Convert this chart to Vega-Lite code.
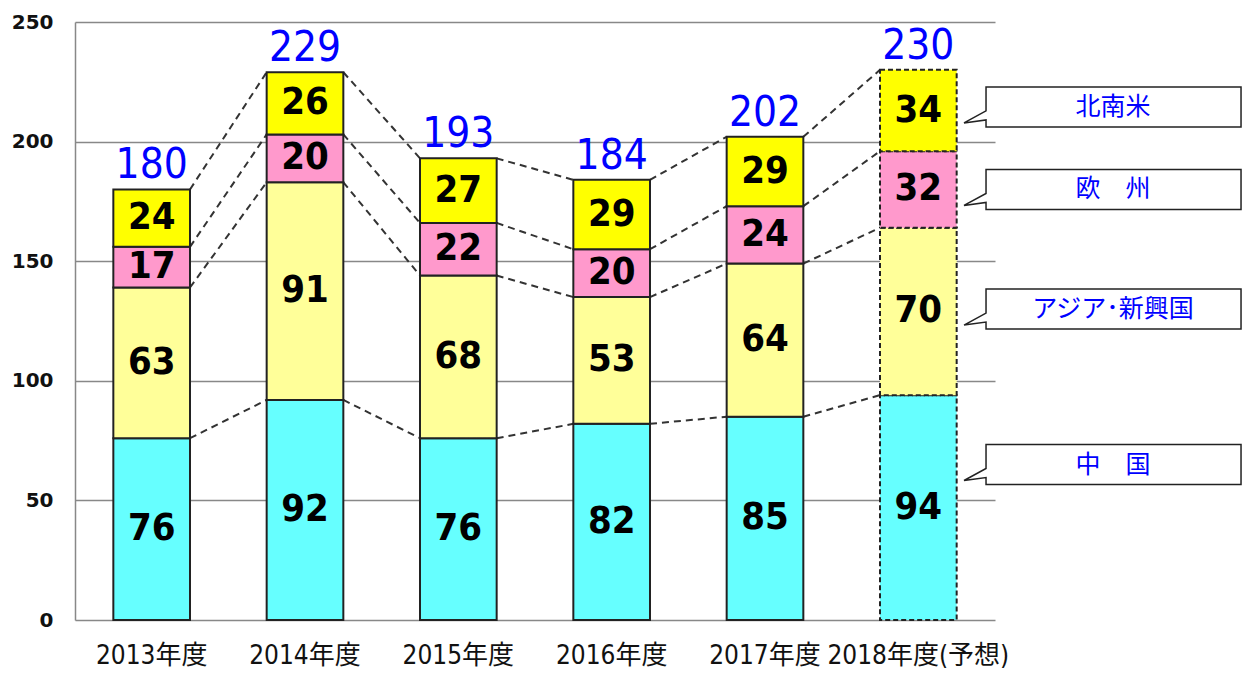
{
  "$schema": "https://vega.github.io/schema/vega-lite/v6.json",
  "width": 920,
  "height": 598,
  "autosize": {"type": "none"},
  "padding": {"left": 75, "top": 22, "right": 248, "bottom": 53},
  "config": {
    "view": {"stroke": null},
    "font": "Noto Sans CJK JP",
    "axisX": {
      "domain": false, "ticks": false, "grid": false,
      "labelFont": "'DejaVu Sans Condensed', 'Noto Sans CJK JP', sans-serif",
      "labelFontSize": 26, "labelColor": "#111", "labelPadding": 22, "labelAngle": 0,
      "labelLimit": 0
    },
    "axisY": {
      "domain": true, "domainColor": "#888", "domainWidth": 1.5,
      "ticks": false, "grid": true, "gridColor": "#888", "gridWidth": 1.5,
      "labelFont": "DejaVu Sans", "labelFontWeight": "bold", "labelFontSize": 20,
      "labelColor": "#111", "labelPadding": 22
    }
  },
  "datasets": {
    "exports": [
      {"year": "2013年度", "region": "中国", "value": 76},
      {"year": "2013年度", "region": "アジア･新興国", "value": 63},
      {"year": "2013年度", "region": "欧州", "value": 17},
      {"year": "2013年度", "region": "北南米", "value": 24},
      {"year": "2014年度", "region": "中国", "value": 92},
      {"year": "2014年度", "region": "アジア･新興国", "value": 91},
      {"year": "2014年度", "region": "欧州", "value": 20},
      {"year": "2014年度", "region": "北南米", "value": 26},
      {"year": "2015年度", "region": "中国", "value": 76},
      {"year": "2015年度", "region": "アジア･新興国", "value": 68},
      {"year": "2015年度", "region": "欧州", "value": 22},
      {"year": "2015年度", "region": "北南米", "value": 27},
      {"year": "2016年度", "region": "中国", "value": 82},
      {"year": "2016年度", "region": "アジア･新興国", "value": 53},
      {"year": "2016年度", "region": "欧州", "value": 20},
      {"year": "2016年度", "region": "北南米", "value": 29},
      {"year": "2017年度", "region": "中国", "value": 85},
      {"year": "2017年度", "region": "アジア･新興国", "value": 64},
      {"year": "2017年度", "region": "欧州", "value": 24},
      {"year": "2017年度", "region": "北南米", "value": 29},
      {"year": "2018年度(予想)", "region": "中国", "value": 94},
      {"year": "2018年度(予想)", "region": "アジア･新興国", "value": 70},
      {"year": "2018年度(予想)", "region": "欧州", "value": 32},
      {"year": "2018年度(予想)", "region": "北南米", "value": 34}
    ],
    "callouts": [
      {"label": "北南米", "at": 214.5},
      {"label": "欧　州", "at": 180},
      {"label": "アジア･新興国", "at": 130},
      {"label": "中　国", "at": 65}
    ]
  },
  "layer": [
    {
      "data": {"name": "exports"},
      "transform": [
        {"stack": "value", "groupby": ["year"], "as": ["lo", "hi"]},
        {
          "window": [
            {"op": "lead", "field": "hi", "as": "nextHi"},
            {"op": "lead", "field": "year", "as": "nextYear"}
          ],
          "groupby": ["region"],
          "sort": [{"field": "year", "order": "ascending"}]
        },
        {"filter": "datum.nextYear != null"}
      ],
      "mark": {"type": "rule", "stroke": "#333", "strokeWidth": 2, "strokeDash": [7, 5]},
      "encoding": {
        "x": {"field": "year", "type": "nominal", "bandPosition": 1, "title": null},
        "x2": {"field": "nextYear", "bandPosition": 0},
        "y": {"field": "hi", "type": "quantitative", "title": null},
        "y2": {"field": "nextHi"}
      }
    },
    {
      "data": {"name": "exports"},
      "transform": [
        {"stack": "value", "groupby": ["year"], "as": ["lo", "hi"]}
      ],
      "mark": {"type": "bar", "stroke": "#222", "strokeWidth": 2},
      "encoding": {
        "x": {
          "field": "year", "type": "nominal", "title": null,
          "scale": {"paddingInner": 0.5, "paddingOuter": 0.25}
        },
        "y": {
          "field": "lo", "type": "quantitative", "title": null,
          "scale": {"domain": [0, 250], "nice": false},
          "axis": {"values": [0, 50, 100, 150, 200, 250]}
        },
        "y2": {"field": "hi"},
        "color": {
          "field": "region", "type": "nominal", "legend": null,
          "scale": {
            "domain": ["中国", "アジア･新興国", "欧州", "北南米"],
            "range": ["#66FFFF", "#FFFF99", "#FF99CC", "#FFFF00"]
          }
        },
        "strokeDash": {
          "condition": {"test": "datum.year === '2018年度(予想)'", "value": [5, 3]},
          "value": [1, 0]
        }
      }
    },
    {
      "data": {"name": "exports"},
      "transform": [
        {"stack": "value", "groupby": ["year"], "as": ["lo", "hi"]},
        {"calculate": "(datum.lo + datum.hi) / 2", "as": "mid"}
      ],
      "mark": {
        "type": "text", "font": "'DejaVu Sans Condensed', 'Noto Sans CJK JP', sans-serif",
        "fontWeight": "bold", "fontSize": 38, "color": "#000", "baseline": "middle"
      },
      "encoding": {
        "x": {"field": "year", "type": "nominal", "title": null},
        "y": {"field": "mid", "type": "quantitative", "title": null},
        "text": {"field": "value", "type": "quantitative"}
      }
    },
    {
      "data": {"name": "exports"},
      "transform": [
        {"stack": "value", "groupby": ["year"], "as": ["lo", "hi"]},
        {"filter": "datum.region === '北南米'"}
      ],
      "mark": {
        "type": "text", "font": "'DejaVu Sans Condensed', 'Noto Sans CJK JP', sans-serif",
        "fontSize": 42, "color": "#0000FF", "baseline": "alphabetic", "dy": -11
      },
      "encoding": {
        "x": {"field": "year", "type": "nominal", "title": null},
        "y": {"field": "hi", "type": "quantitative", "title": null},
        "text": {"field": "hi", "type": "quantitative"}
      }
    },
    {
      "data": {"name": "callouts"},
      "mark": {
        "type": "point",
        "shape": "M0,-20L255,-20L255,20L0,20L0,13L-22,16L0,4Z",
        "size": 4, "filled": true, "fill": "white", "stroke": "#222",
        "strokeWidth": 1.5, "opacity": 1
      },
      "encoding": {
        "x": {"datum": "2018年度(予想)", "type": "nominal", "bandPosition": 1.383, "title": null},
        "y": {"field": "at", "type": "quantitative", "title": null}
      }
    },
    {
      "data": {"name": "callouts"},
      "mark": {
        "type": "text", "font": "Noto Sans CJK JP", "fontSize": 25,
        "color": "#0000FF", "baseline": "middle", "align": "center"
      },
      "encoding": {
        "x": {"datum": "2018年度(予想)", "type": "nominal", "bandPosition": 3.04, "title": null},
        "y": {"field": "at", "type": "quantitative", "title": null},
        "text": {"field": "label", "type": "nominal"}
      }
    }
  ]
}
